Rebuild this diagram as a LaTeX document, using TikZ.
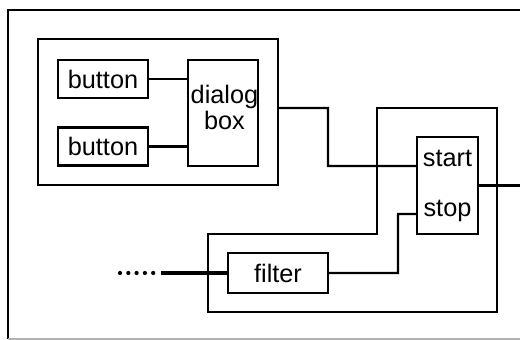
\documentclass[tikz,border=0pt]{standalone}
\usepackage{fontspec}
\setmainfont{Liberation Sans}
\usetikzlibrary{positioning}

\begin{document}
\begin{tikzpicture}[
    x=0.02cm, y=0.02cm,
    wire/.style={line width=1.3pt, line join=miter},
    block/.style={draw, rectangle, line width=1.3pt, inner sep=0pt, align=center, font=\fontsize{14.4}{14.5}\selectfont},
    button/.style={block, minimum width=1.8cm, minimum height=0.76cm},
    txt/.style={inner sep=0pt, align=center, font=\fontsize{14.4}{14.5}\selectfont}
]
    \useasboundingbox (0,0) rectangle (520,340);
    % outer frame
    \draw[wire] (520,330) -- (8,330) -- (8,1);
    \draw[wire, black!30] (8,1) -- (520,1);

    \node[block, minimum width=4.8cm, minimum height=2.92cm] (panel) at (158,228) {};
    \node[button] (btnA) at (103,261) {button};
    \node[button] (btnB) at (103,193.5) {button};
    \node[block, minimum width=1.4cm, minimum height=2.12cm] (dialog) at (223,227) {};
    \node[txt] (dialogtxt) at (224.5,232.5) {dialog\\box};

    \node[block, minimum width=1.22cm, minimum height=1.94cm] (ctrl) at (447.5,154.5) {start\\[14pt]stop};
    \node[block, minimum width=2cm, minimum height=0.8cm] (filter) at (278,67) {filter};

    \coordinate (ctrl-start) at ([yshift=0.39cm]ctrl.west);
    \coordinate (ctrl-stop) at ([yshift=-0.57cm]ctrl.west);
    \coordinate (bendA) at (328,174);
    \coordinate (bendB) at (398,126);
    \coordinate (in) at (120,67);
    \coordinate (inline) at (161,67);
    \coordinate (out) at (520,154.5);

    % enclosure round the controller
    \draw[wire] (377,232) -- (497,232) -- (497,28) -- (208,28) -- (208,106) -- (377,106) -- cycle;

    \draw[wire] (btnA.east) -- (btnA -| dialog.west);
    \draw[wire] (btnB.east) -- (btnB -| dialog.west);
    \draw[wire] ([yshift=0.08cm]panel.east) -| (bendA) -- (ctrl-start);
    \draw[wire] (filter.east) -| (bendB) -- (ctrl-stop);
    \draw[wire] (ctrl.east) -- (out);
    \draw[line width=2.4pt, line cap=round, dash pattern=on 0pt off 0.166cm] (in) -- ++(34,0);
    \draw[line width=2pt] (inline) -- (filter.west);
\end{tikzpicture}
\end{document}
